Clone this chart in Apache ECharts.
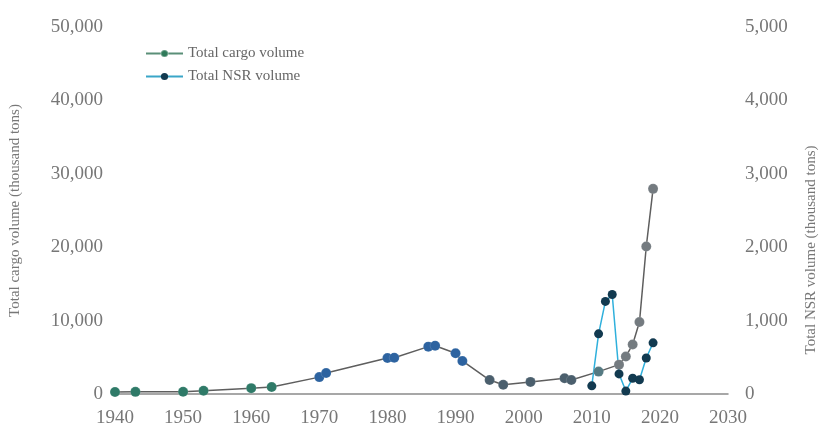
<!DOCTYPE html>
<html lang="en">
<head>
    <meta charset="UTF-8">
    <title>Northern Sea Route cargo volume</title>
    <script src="https://cdn.jsdelivr.net/npm/echarts@6/dist/echarts.min.js"></script>
</head>
<style>
    html, body {
        margin: 0;
        padding: 0;
        background: #ffffff;
    }
    #chart {
        width: 819px;
        height: 430px;
    }
</style>
<body>
<div id="chart"></div>
<script>
    // values, thousand tons
    var cargoYears = [1940, 1943, 1950, 1953, 1960, 1963, 1970, 1971, 1980, 1981, 1986, 1987,
        1990, 1991, 1995, 1997, 2001, 2006, 2007, 2011, 2014, 2015, 2016, 2017, 2018, 2019];
    var cargoValues = [280, 290, 300, 450, 800, 950, 2300, 2850, 4900, 4950, 6450, 6580,
        5550, 4500, 1900, 1250, 1650, 2150, 1900, 3050, 4000, 5100, 6750, 9800, 20100, 27950];
    var nsrYears = [2010, 2011, 2012, 2013, 2014, 2015, 2016, 2017, 2018, 2019];
    var nsrValues = [111, 820, 1261, 1356, 274, 40, 214, 194, 491, 697];
    var xTicks = {min: 1940, max: 2030, step: 10};
    var legendNames = ['Total cargo volume', 'Total NSR volume'];

    var FONT = '"Liberation Serif", "DejaVu Serif", serif';

    function pairs(xs, ys) {
        var out = [];
        for (var i = 0; i < xs.length; i++) {
            out.push([xs[i], ys[i]]);
        }
        return out;
    }

    function commas(v) {
        return Number(v).toLocaleString('en-US');
    }

    // marker shade drifts along the old series in the picture
    function cargoMarker(p) {
        var year = p.value[0];
        if (year < 1965) return '#2f7a68';
        if (year < 1993) return '#2d63a0';
        if (year < 2010) return '#4b5f6d';
        if (year < 2012) return '#557a82';
        return '#747b80';
    }

    var chart = echarts.init(document.getElementById('chart'));

    var option = {
        animation: false,
        textStyle: {fontFamily: FONT},
        grid: {left: 112, right: 91, top: 27, bottom: 36},
        legend: {
            orient: 'vertical',
            left: 140,
            top: 41,
            itemGap: 8,
            itemWidth: 37,
            itemHeight: 9,
            textStyle: {fontFamily: FONT, fontSize: 15, color: '#666'},
            data: [
                {name: legendNames[0], lineStyle: {color: '#5a8f78'}, itemStyle: {color: '#2f7a5a'}},
                {name: legendNames[1], lineStyle: {color: '#3aa6c8'}, itemStyle: {color: '#123a50'}}
            ]
        },
        xAxis: {
            type: 'value',
            min: xTicks.min,
            max: xTicks.max,
            interval: xTicks.step,
            splitLine: {show: false},
            axisTick: {show: false},
            axisLine: {show: true, lineStyle: {color: '#8a8a8a', width: 1.5}},
            axisLabel: {
                margin: 15,
                fontFamily: FONT,
                fontSize: 19,
                color: '#777',
                formatter: function (v) { return String(v); }
            }
        },
        yAxis: [{
            type: 'value',
            min: 0,
            max: 50000,
            interval: 10000,
            name: 'Total cargo volume (thousand tons)',
            nameLocation: 'middle',
            nameRotate: 90,
            nameGap: 92,
            nameTextStyle: {fontFamily: FONT, fontSize: 15, color: '#777'},
            splitLine: {show: false},
            axisTick: {show: false},
            axisLine: {show: false},
            axisLabel: {margin: 12, fontFamily: FONT, fontSize: 19, color: '#777', formatter: commas}
        }, {
            type: 'value',
            min: 0,
            max: 5000,
            interval: 1000,
            position: 'right',
            splitLine: {show: false},
            axisTick: {show: false},
            axisLine: {show: false},
            axisLabel: {margin: 17, fontFamily: FONT, fontSize: 19, color: '#777', formatter: commas}
        }],
        graphic: [{
            type: 'text',
            x: 811,
            y: 250,
            rotation: Math.PI / 2,
            style: {
                text: 'Total NSR volume (thousand tons)',
                font: '15px ' + FONT,
                fill: '#777',
                align: 'center',
                verticalAlign: 'middle'
            }
        }],
        series: [{
            name: legendNames[0],
            type: 'line',
            yAxisIndex: 0,
            data: pairs(cargoYears, cargoValues),
            symbol: 'circle',
            symbolSize: 10,
            lineStyle: {color: '#5e5e5e', width: 1.5},
            itemStyle: {color: cargoMarker, borderColor: 'rgba(255,255,255,0.25)', borderWidth: 0.5}
        }, {
            name: legendNames[1],
            type: 'line',
            yAxisIndex: 1,
            data: pairs(nsrYears, nsrValues),
            symbol: 'circle',
            symbolSize: 9,
            lineStyle: {color: '#2fb0dc', width: 1.5},
            itemStyle: {color: '#123a50'}
        }]
    };

    chart.setOption(option);
</script>
</body>
</html>
